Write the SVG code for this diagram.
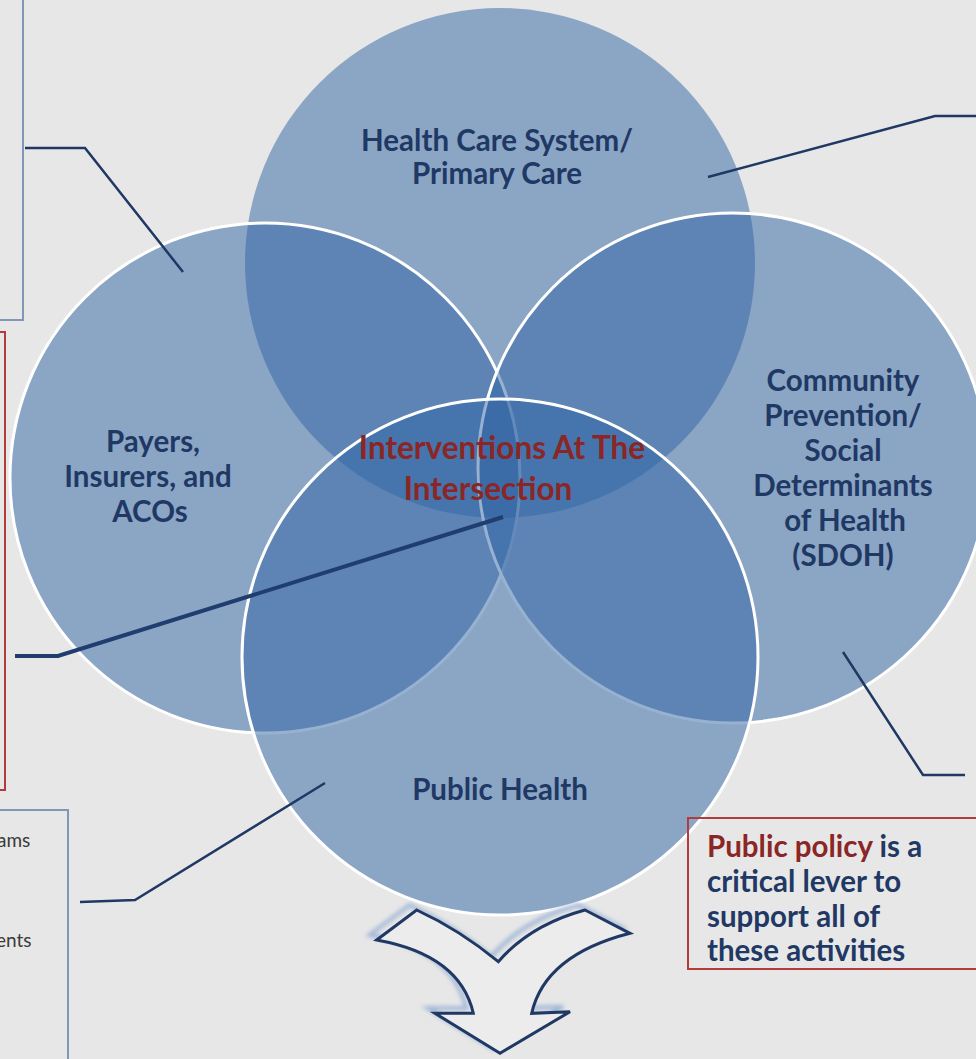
<svg xmlns="http://www.w3.org/2000/svg" width="976" height="1059" viewBox="0 0 976 1059">
  <defs>
    <style>
      .bg { fill: #e7e7e7; }
      .circle { fill: #2f63a3; fill-opacity: 0.5; stroke: #ffffff; stroke-width: 3; }
      .circle.first { stroke: none; }
      .label { font-family: Lato, "Liberation Sans", sans-serif; font-weight: 700; font-size: 29.5px; fill: #1f3864; text-anchor: middle; }
      .center-label { font-family: Lato, "Liberation Sans", sans-serif; font-weight: 700; font-size: 31.5px; fill: #8b2626; text-anchor: middle; }
      .note { font-family: Lato, "Liberation Sans", sans-serif; font-weight: 700; font-size: 29.5px; fill: #1f3864; }
      .note .hl { fill: #8b2626; }
      .side { font-family: Lato, "Liberation Sans", sans-serif; font-size: 19px; fill: #3a3a3a; }
      .box-blue { fill: none; stroke: #8197b6; stroke-width: 2; }
      .box-red { fill: none; stroke: #b23b3b; stroke-width: 2; }
      .leader { fill: none; stroke: #1f3864; stroke-width: 2.5; stroke-linejoin: miter; }
      .leader.main { stroke-width: 4; stroke: #1f3d6e; }
      .arrow { fill: #ececec; stroke: #1f3864; stroke-width: 3; stroke-linejoin: miter; }
      .arrow-shadow { fill: none; stroke: #9fb6d6; stroke-width: 4; }
    </style>
    <filter id="soft" x="-20%" y="-20%" width="140%" height="140%">
      <feGaussianBlur stdDeviation="2"/>
    </filter>
  </defs>

  <rect class="bg" x="0" y="0" width="976" height="1059"/>

  <!-- side callout boxes (partly outside the frame) -->
  <g id="box-top-left">
    <rect class="box-blue" x="-20" y="-10" width="43" height="330"/>
  </g>
  <g id="box-mid-left">
    <rect class="box-red" x="-20" y="332" width="25" height="458"/>
  </g>
  <g id="box-bottom-left">
    <rect class="box-blue" x="-20" y="810" width="88" height="270"/>
    <text class="side" x="-3" y="847">ams</text>
    <text class="side" x="-4" y="947">ents</text>
  </g>

  <!-- overlapping domains -->
  <g id="circle-health-care">
    <circle class="circle first" cx="500" cy="263" r="255"/>
  </g>
  <g id="circle-payers">
    <circle class="circle" cx="265" cy="478" r="255"/>
  </g>
  <g id="circle-community">
    <circle class="circle" cx="733" cy="468" r="255"/>
  </g>
  <g id="circle-public-health">
    <circle class="circle" cx="500" cy="657" r="258"/>
  </g>

  <g id="labels">
    <g id="label-health-care">
      <text class="label" x="497" y="151">Health Care System/</text>
      <text class="label" x="497" y="184">Primary Care</text>
    </g>
    <g id="label-payers">
      <text class="label" x="153" y="452">Payers,</text>
      <text class="label" x="148" y="487">Insurers, and</text>
      <text class="label" x="150" y="522">ACOs</text>
    </g>
    <g id="label-community">
      <text class="label" x="843" y="391">Community</text>
      <text class="label" x="843" y="426">Prevention/</text>
      <text class="label" x="843" y="461">Social</text>
      <text class="label" x="843" y="496">Determinants</text>
      <text class="label" x="845" y="531">of Health</text>
      <text class="label" x="843" y="566">(SDOH)</text>
    </g>
    <g id="label-public-health">
      <text class="label" x="500" y="800">Public Health</text>
    </g>
    <g id="label-intersection">
      <text class="center-label" x="502" y="459">Interventions At The</text>
      <text class="center-label" x="488" y="500">Intersection</text>
    </g>
  </g>

  <!-- leader lines from each domain to its callout -->
  <g id="connectors">
    <polyline class="leader" points="25,148 85,148 183,272"/>
    <polyline class="leader" points="708,177 935,116 976,116"/>
    <polyline class="leader main" points="503,517 58,656 15,656"/>
    <polyline class="leader" points="80,902 135,900 325,783"/>
    <polyline class="leader" points="843,652 923,775 965,775"/>
  </g>

  <g id="policy-box">
    <rect class="box-red" x="688" y="818" width="300" height="151"/>
    <text class="note" x="707" y="857"><tspan class="hl">Public policy</tspan> is a</text>
    <text class="note" x="707" y="892">critical lever to</text>
    <text class="note" x="707" y="927">support all of</text>
    <text class="note" x="707" y="961">these activities</text>
  </g>

  <g id="down-arrow">
    <path class="arrow-shadow" filter="url(#soft)" transform="translate(-7,-5)" d="M416.7,910 Q460,930 498.3,961.7 Q530,925 585,910 L630,933.3 Q545,955 531.7,1013.3 L570,1011.7 L500,1053.3 L435,1013.3 L473.3,1013.3 Q460,955 376.7,940 Z"/>
    <path class="arrow" d="M416.7,910 Q460,930 498.3,961.7 Q530,925 585,910 L630,933.3 Q545,955 531.7,1013.3 L570,1011.7 L500,1053.3 L435,1013.3 L473.3,1013.3 Q460,955 376.7,940 Z"/>
  </g>
</svg>
